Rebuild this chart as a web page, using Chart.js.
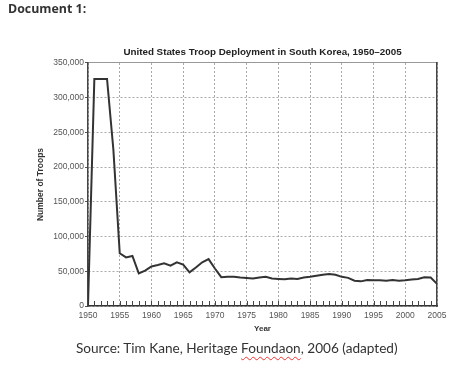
<!DOCTYPE html>
<html>
<head>
<meta charset="utf-8">
<script src="https://cdn.jsdelivr.net/npm/chart.js@4"></script>
<style>
  body { margin: 0; background: #fff; }
  #wrap { position: relative; width: 461px; height: 383px; overflow: hidden; }
  #doc { position: absolute; left: 8px; top: 0px; font: bold 12.4px "Open Sans", sans-serif; color: #333; }
  #src { position: absolute; left: 76px; top: 340px; font: 13.6px Lato, sans-serif; color: #333; white-space: nowrap; }
  .sq { text-decoration: underline wavy #e33; text-decoration-thickness: 1px; text-underline-offset: 3px; }
</style>
</head>
<body>
<div id="wrap">
  <canvas id="chart" width="461" height="383"></canvas>
  <div id="doc">Document 1:</div>
  <div id="src">Source: Tim Kane, Heritage <span class="sq">Foundaon</span>, 2006 (adapted)</div>
</div>
<script>
const years = [1950, 1951, 1952, 1953, 1954, 1955, 1956, 1957, 1958, 1959,
  1960, 1961, 1962, 1963, 1964, 1965, 1966, 1967, 1968, 1969,
  1970, 1971, 1972, 1973, 1974, 1975, 1976, 1977, 1978, 1979,
  1980, 1981, 1982, 1983, 1984, 1985, 1986, 1987, 1988, 1989,
  1990, 1991, 1992, 1993, 1994, 1995, 1996, 1997, 1998, 1999,
  2000, 2001, 2002, 2003, 2004, 2005];
const troops = [500, 327000, 327000, 327000, 225000, 76000, 70000, 72000, 47000, 51000,
  57000, 59000, 61500, 58000, 63000, 59500, 48500, 55500, 63000, 67500,
  54000, 41500, 42000, 42000, 41000, 40500, 39500, 41000, 42000, 39500,
  39000, 38500, 39500, 39000, 41000, 42000, 43500, 45000, 46000, 45000,
  42000, 40500, 36500, 35500, 37500, 37000, 37000, 36500, 37500, 36500,
  37000, 38000, 39000, 41500, 41000, 32000];
const chartTitle = 'United States Troop Deployment in South Korea, 1950\u20132005';

// small tick marks every year, pointing up from the x axis
const minorTicks = {
  id: 'minorTicks',
  afterDraw(chart) {
    const xs = chart.scales.x;
    const ctx = chart.ctx;
    const bottom = chart.chartArea.bottom;
    ctx.save();
    ctx.strokeStyle = '#444';
    ctx.lineWidth = 1;
    ctx.beginPath();
    for (let yr = 1951; yr < 2005; yr++) {
      const px = Math.round(xs.getPixelForValue(yr)) + 0.5;
      ctx.moveTo(px, bottom);
      ctx.lineTo(px, bottom - 5);
    }
    ctx.stroke();
    ctx.restore();
  }
};

new Chart(document.getElementById('chart'), {
  type: 'line',
  data: {
    datasets: [{
      data: years.map((y, i) => ({x: y, y: troops[i]})),
      borderColor: '#333',
      borderWidth: 2,
      pointRadius: 0,
      tension: 0
    }]
  },
  options: {
    responsive: false,
    animation: false,
    layout: { padding: { left: 0, right: 24, top: 0, bottom: 47 } },
    plugins: {
      legend: { display: false },
      tooltip: { enabled: false },
      title: {
        display: true,
        fullSize: false,
        text: chartTitle,
        color: '#222',
        font: { family: 'Liberation Sans', size: 9.8, weight: 'bold' },
        padding: { top: 46.8, bottom: 4.44 }
      }
    },
    scales: {
      x: {
        type: 'linear',
        min: 1950,
        max: 2005,
        afterFit(s) { s.height = 30; },
        ticks: {
          stepSize: 5,
          color: '#555',
          padding: 5,
          maxRotation: 0,
          font: { family: 'Liberation Sans', size: 8.5 },
          callback: v => String(v)
        },
        grid: { color: '#aaa', lineWidth: 1, drawTicks: false },
        border: { color: '#333', width: 1.5, dash: [2, 2] },
        title: {
          display: true,
          text: 'Year',
          color: '#333',
          font: { family: 'Liberation Sans', size: 8, weight: 'bold' },
          padding: { top: 0, bottom: 2.5 }
        }
      },
      x2: {
        type: 'linear',
        position: 'top',
        min: 1950,
        max: 2005,
        afterFit(s) { s.height = 0; },
        ticks: { display: false },
        grid: { drawOnChartArea: false, drawTicks: false },
        border: { color: '#999', width: 1 }
      },
      y: {
        min: 0,
        max: 350000,
        afterFit(s) { s.width = 88; },
        ticks: {
          stepSize: 50000,
          color: '#555',
          padding: 1,
          font: { family: 'Liberation Sans', size: 8.5 }
        },
        grid: { color: '#aaa', lineWidth: 1, tickLength: 3, tickColor: '#555' },
        border: { color: '#444', width: 1.5, dash: [2, 2] },
        title: {
          display: true,
          text: 'Number of Troops',
          color: '#333',
          font: { family: 'Liberation Sans', size: 8.5, weight: 'bold' },
          padding: { top: 36, bottom: 0 }
        }
      },
      y2: {
        position: 'right',
        min: 0,
        max: 350000,
        afterFit(s) { s.width = 0; },
        ticks: { display: false },
        grid: { drawOnChartArea: false, drawTicks: false },
        border: { color: '#444', width: 1.5 }
      }
    }
  },
  plugins: [minorTicks]
});
</script>
</body>
</html>
